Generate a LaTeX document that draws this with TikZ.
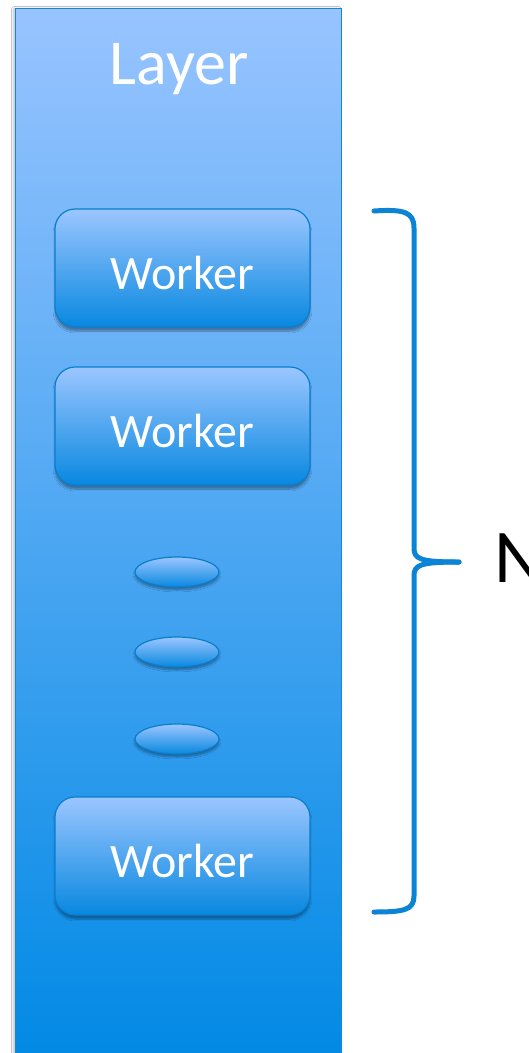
\documentclass[tikz,border=0pt]{standalone}
\usepackage{fontspec}
\setmainfont{Carlito}
\usetikzlibrary{shapes.geometric,shadows.blur}
\definecolor{layertop}{RGB}{152,196,255}
\definecolor{layerbot}{RGB}{0,137,229}
\definecolor{layeredge}{RGB}{20,136,212}
\definecolor{worktop}{RGB}{155,198,255}
\definecolor{workbot}{RGB}{8,136,224}
\definecolor{workedge}{RGB}{10,126,204}
\definecolor{braceblue}{RGB}{12,132,214}
\tikzset{
  layerbox/.style={draw=layeredge, line width=1.2pt, top color=layertop, bottom color=layerbot,
    minimum width=326pt, minimum height=1060pt, anchor=north west, inner sep=0pt,
    blur shadow={shadow xshift=-2pt, shadow yshift=0pt, shadow opacity=25, shadow blur steps=6}},
  workerbox/.style={draw=workedge, line width=1.2pt, rounded corners=20pt,
    top color=worktop, bottom color=workbot, minimum width=255pt, minimum height=118pt,
    inner sep=0pt, text=white, font=\fontsize{48}{56}\selectfont,
    text height=42pt, text depth=0pt,
    blur shadow={shadow xshift=0pt, shadow yshift=-4pt, shadow opacity=35, shadow blur steps=8}},
  dotshape/.style={ellipse, draw=workedge, line width=1.2pt, top color=worktop, bottom color=workbot,
    minimum width=84pt, minimum height=30pt, inner sep=0pt,
    blur shadow={shadow xshift=0pt, shadow yshift=-3pt, shadow opacity=35, shadow blur steps=6}},
  bracepath/.style={draw=braceblue, line width=5pt, line cap=round, line join=round},
  title/.style={text=white, font=\fontsize{64}{70}\selectfont},
  countlabel/.style={text=black, anchor=west, font=\fontsize{76}{84}\selectfont, inner sep=0pt}
}
\begin{document}
\begin{tikzpicture}[x=1pt,y=-1pt]
  \useasboundingbox (0,0) rectangle (528,1053);
  \clip (0,0) rectangle (528,1053);
  \fill[white] (0,0) rectangle (528,1053);

  % the layer column
  \node[layerbox] (layer) at (15,8) {};
  \node[title] (layertitle) at (179,69) {Layer};

  % workers
  \node[workerbox] (w1) at (182.5,268) {Worker};
  \node[workerbox] (w2) at (182.5,426) {Worker};
  \node[workerbox] (w3) at (182.5,856) {Worker};

  % ellipsis between workers
  \node[dotshape] (d1) at (177,572) {};
  \node[dotshape] (d2) at (177,652) {};
  \node[dotshape] (d3) at (177,739) {};

  % brace spanning the workers
  \coordinate (btop) at (374,211);
  \coordinate (btip) at (459,562);
  \coordinate (bbot) at (374,912);
  \path[bracepath] (btop) .. controls (404,209) and (414,212) .. (414,228)
    -- (414,548) .. controls (414,559) and (420,562) .. (btip);
  \path[bracepath] (btip) .. controls (420,562) and (414,565) .. (414,576)
    -- (414,896) .. controls (414,910) and (404,912) .. (bbot);

  \node[countlabel] (count) at (494,558) {N};
\end{tikzpicture}
\end{document}
